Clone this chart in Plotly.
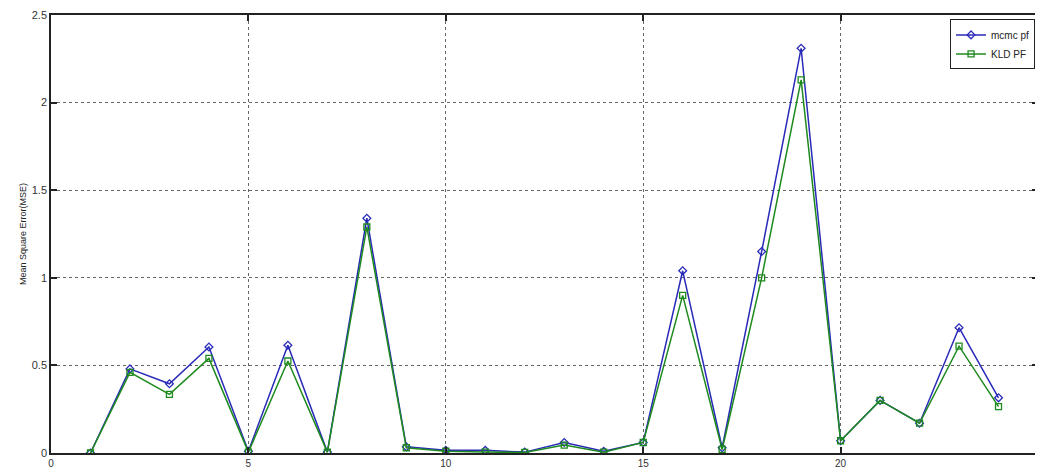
import plotly.graph_objects as go

x_vals = list(range(1, 25))
mcmc_pf = [0.0, 0.48, 0.395, 0.605, 0.01, 0.615, 0.005, 1.34, 0.035, 0.015, 0.015, 0.005,
           0.06, 0.01, 0.06, 1.04, 0.03, 1.15, 2.31, 0.07, 0.30, 0.17, 0.715, 0.315]
kld_pf = [0.0, 0.46, 0.335, 0.54, 0.005, 0.525, 0.005, 1.29, 0.03, 0.01, 0.005, 0.003,
          0.045, 0.005, 0.06, 0.90, 0.02, 1.00, 2.13, 0.07, 0.30, 0.17, 0.61, 0.265]
x_ticks = [0, 5, 10, 15, 20, 25]
y_ticks = [0, 0.5, 1, 1.5, 2, 2.5]
y_tick_labels = ["0", "0.5", "1", "1.5", "2", "2.5"]

fig = go.Figure()
fig.add_trace(go.Scatter(x=x_vals, y=mcmc_pf, mode="lines+markers", name="mcmc pf",
                         line=dict(color="#2a2ab8", width=1.5),
                         marker=dict(symbol="diamond-open", size=6, color="#2a2ab8", line=dict(width=1.3))))
fig.add_trace(go.Scatter(x=x_vals, y=kld_pf, mode="lines+markers", name="KLD PF",
                         line=dict(color="#1e8a1e", width=1.5),
                         marker=dict(symbol="square-open", size=6, color="#1e8a1e", line=dict(width=1.3))))

axis_common = dict(showline=True, linecolor="#222222", linewidth=1.5, mirror="ticks",
                   ticks="inside", ticklen=6, tickcolor="#222222", tickwidth=1.5,
                   showgrid=True, gridcolor="#666666", griddash="dot", gridwidth=1,
                   zeroline=False, automargin=False)

fig.update_xaxes(range=[0, 25], tickvals=x_ticks,
                 tickfont=dict(family="Liberation Sans, Arial", size=10, color="#333333"),
                 **axis_common)
fig.update_yaxes(range=[0, 2.5], tickvals=y_ticks, ticktext=y_tick_labels,
                 tickfont=dict(family="Liberation Sans, Arial", size=11, color="#333333"),
                 title=dict(text="Mean Square Error(MSE)", font=dict(family="Liberation Sans, Arial", size=9, color="#222222"), standoff=4),
                 **axis_common)

# page body has an 8px margin, so the figure is sized to fit the 1043x468 window
fig.update_layout(width=1035, height=460, margin=dict(l=43, r=5, t=7, b=15),
                  plot_bgcolor="white", paper_bgcolor="white",
                  font=dict(family="Liberation Sans, Arial", color="#222222"),
                  legend=dict(x=0.997, y=0.99, xanchor="right", yanchor="top",
                              bgcolor="white", bordercolor="#222222", borderwidth=1,
                              font=dict(size=10), itemwidth=30, tracegroupgap=0))

fig.write_html("out.html")
